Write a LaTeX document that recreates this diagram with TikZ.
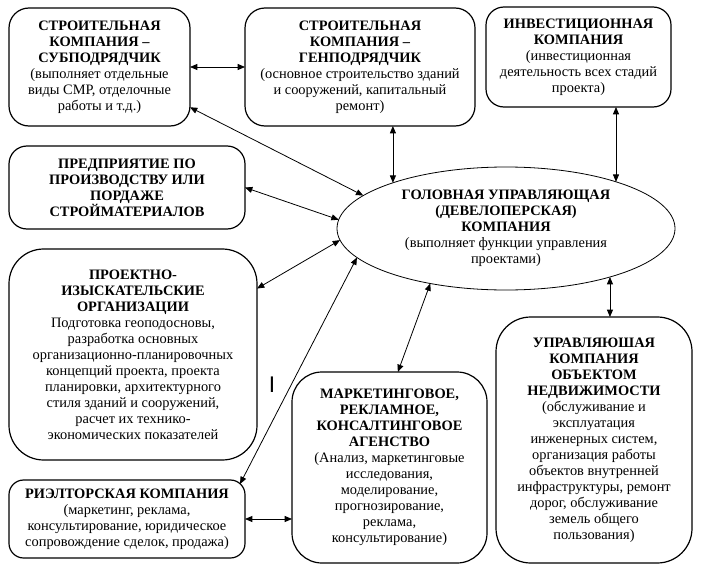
\documentclass[tikz,border=0pt]{standalone}
\usepackage{fontspec}
\setmainfont{Liberation Serif}
\newfontfamily\sansfont{Liberation Sans}
\usetikzlibrary{shapes.geometric,arrows.meta}
\begin{document}
\begin{tikzpicture}[x=0.75pt,y=-0.75pt,
  every node/.style={font=\fontsize{10.8}{12}\selectfont, align=center, inner sep=0pt, outer sep=0pt},
  boite/.style={draw, line width=0.9pt, rounded corners=15pt},
  fleche/.style={line width=0.6pt, {Triangle[length=5.5pt,width=4.5pt]}-{Triangle[length=5.5pt,width=4.5pt]}}]
\useasboundingbox (0,0) rectangle (703,571);

% la compagnie de tete au centre
\node[draw, ellipse, line width=0.6pt, minimum width=253.5pt, minimum height=92.25pt] (tete) at (506,228.5)
  {\textbf{ГОЛОВНАЯ УПРАВЛЯЮЩАЯ}\\\textbf{(ДЕВЕЛОПЕРСКАЯ)}\\\textbf{КОМПАНИЯ}\\(выполняет функции управления\\проектами)};

% les boites du haut
\node[boite, minimum width=135.75pt, minimum height=88.5pt] (sous) at (99.5,67)
  {\textbf{СТРОИТЕЛЬНАЯ}\\\textbf{КОМПАНИЯ –}\\\textbf{СУБПОДРЯДЧИК}\\(выполняет отдельные\\виды СМР, отделочные\\работы и т.д.)};
\node[boite, minimum width=172.5pt, minimum height=88.5pt] (gen) at (360,67)
  {\textbf{СТРОИТЕЛЬНАЯ}\\\textbf{КОМПАНИЯ –}\\\textbf{ГЕНПОДРЯДЧИК}\\(основное строительство зданий\\и сооружений, капитальный\\ремонт)};
\node[boite, rounded corners=13.5pt, minimum width=138.75pt, minimum height=75pt] (invest) at (578.5,57)
  {\textbf{ИНВЕСТИЦИОННАЯ}\\\textbf{КОМПАНИЯ}\\(инвестиционная\\деятельность всех стадий\\проекта)};

% colonne de gauche
\node[boite, rounded corners=13.5pt, minimum width=177pt, minimum height=62.25pt] (mater) at (127,187.5)
  {\textbf{ПРЕДПРИЯТИЕ ПО}\\\textbf{ПРОИЗВОДСТВУ ИЛИ}\\\textbf{ПОРДАЖЕ}\\\textbf{СТРОЙМАТЕРИАЛОВ}};
\node[boite, rounded corners=26pt, minimum width=186pt, minimum height=158.25pt] (projet) at (133,354.5)
  {\textbf{ПРОЕКТНО-}\\\textbf{ИЗЫСКАТЕЛЬСКИЕ}\\\textbf{ОРГАНИЗАЦИИ}\\Подготовка геоподосновы,\\разработка основных\\организационно-планировочных\\концепций проекта, проекта\\планировки, архитектурного\\стиля зданий и сооружений,\\расчет их технико-\\экономических показателей};
\node[boite, rounded corners=11pt, minimum width=177pt, minimum height=58.5pt] (rieltor) at (127,519)
  {\textbf{РИЭЛТОРСКАЯ КОМПАНИЯ}\\(маркетинг, реклама,\\консультирование, юридическое\\сопровождение сделок, продажа)};

% les boites du bas
\node[boite, rounded corners=22.5pt, minimum width=146.25pt, minimum height=143.25pt] (market) at (389.5,467.5)
  {\textbf{МАРКЕТИНГОВОЕ,}\\\textbf{РЕКЛАМНОЕ,}\\\textbf{КОНСАЛТИНГОВОЕ}\\\textbf{АГЕНСТВО}\\(Анализ, маркетинговые\\исследования,\\моделирование,\\прогнозирование,\\реклама,\\консультирование)};
\node[boite, rounded corners=26pt, minimum width=147pt, minimum height=184.5pt] (gestion) at (594,440)
  {\textbf{УПРАВЛЯЮШАЯ}\\\textbf{КОМПАНИЯ}\\\textbf{ОБЪЕКТОМ}\\\textbf{НЕДВИЖИМОСТИ}\\(обслуживание и\\эксплуатация\\инженерных систем,\\организация работы\\объектов внутренней\\инфраструктуры, ремонт\\дорог, обслуживание\\земель общего\\пользования)};

% le trait isole
\node (trait) at (272,385) {\sansfont\fontsize{17}{17}\selectfont I};

% les liaisons
\draw[fleche] (sous.east) -- (gen.west);
\draw[fleche] (sous.-24.5) -- (tete.167);
\draw[fleche] (gen.south -| tete.158.4) -- (tete.158.4);
\draw[fleche] (invest.south -| tete.23.2) -- (tete.23.2);
\draw[fleche] (mater.east) -- (tete.177);
\draw[fleche] (projet.28) -- (tete.184);
\draw[fleche] ([shift={(-5,4)}]rieltor.north east) -- (tete.191);
\draw[fleche] (market.85) -- (tete.216);
\draw[fleche] (gestion.north -| tete.335.4) -- (tete.335.4);
\draw[fleche] (rieltor.east) -- (rieltor.east -| market.west);
\end{tikzpicture}
\end{document}
